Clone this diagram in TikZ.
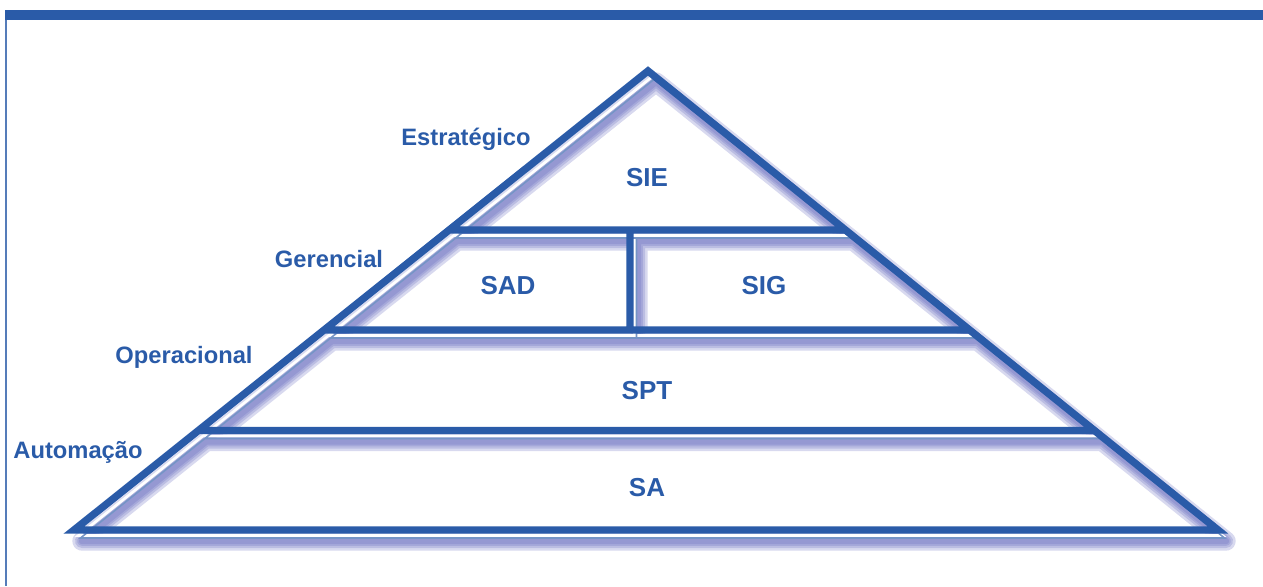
\documentclass[tikz,border=0pt]{standalone}
\usepackage{fontspec}
\setmainfont{Liberation Sans}
\usetikzlibrary{calc}
\definecolor{pyrblue}{RGB}{42,91,168}
\definecolor{pyrshade}{RGB}{100,105,190}
\newcommand{\pyrframe}[1]{\draw[#1] (A) -- (BL) -- (BR) -- cycle (L1) -- (R1) (L2) -- (R2) (L3) -- (R3) (M1) -- (M2);}

\begin{document}
\begin{tikzpicture}[x=0.02cm, y=-0.02cm,
  level/.style={text=pyrblue, font=\fontsize{13.5}{16}\selectfont\bfseries},
  layer/.style={text=pyrblue, font=\fontsize{14.8}{17}\selectfont\bfseries}]
\useasboundingbox (0,0) rectangle (1263,586);
\fill[pyrblue] (5,10) rectangle (1263,20);
\fill[pyrblue!80] (5,20) rectangle (7,586);
\coordinate (A) at (648,71);
\coordinate (BL) at (74,530);
\coordinate (BR) at (1218,530);
\coordinate (L1) at ($(A)!0.3464!(BL)$);
\coordinate (R1) at ($(A)!0.3464!(BR)$);
\coordinate (L2) at ($(A)!0.5643!(BL)$);
\coordinate (R2) at ($(A)!0.5643!(BR)$);
\coordinate (L3) at ($(A)!0.7832!(BL)$);
\coordinate (R3) at ($(A)!0.7832!(BR)$);
\coordinate (M1) at (630,230);
\coordinate (M2) at (630,330);
\foreach \w in {11,8,5.5,3.5} {
  \pyrframe{pyrshade, opacity=0.25, line width=\w pt, line join=round, transform canvas={shift={(8,11)}}}
}
\pyrframe{white, line width=1.5pt, transform canvas={shift={(4.5,5.5)}}}
\pyrframe{pyrblue!65, line width=0.9pt, transform canvas={shift={(6.5,8)}}}
\pyrframe{pyrblue, line width=4.2pt}
\node[level] (estr) at (466,139) {Estratégico};
\node[level] (ger) at (329,259) {Gerencial};
\node[level] (oper) at (184,357) {Operacional};
\node[level] (autom) at (78,452) {Automação};
\node[layer] (sie) at (647,178) {SIE};
\node[layer] (sad) at (508,286) {SAD};
\node[layer] (sig) at (764,286) {SIG};
\node[layer] (spt) at (647,391) {SPT};
\node[layer] (sa) at (647,488) {SA};
\end{tikzpicture}
\end{document}
